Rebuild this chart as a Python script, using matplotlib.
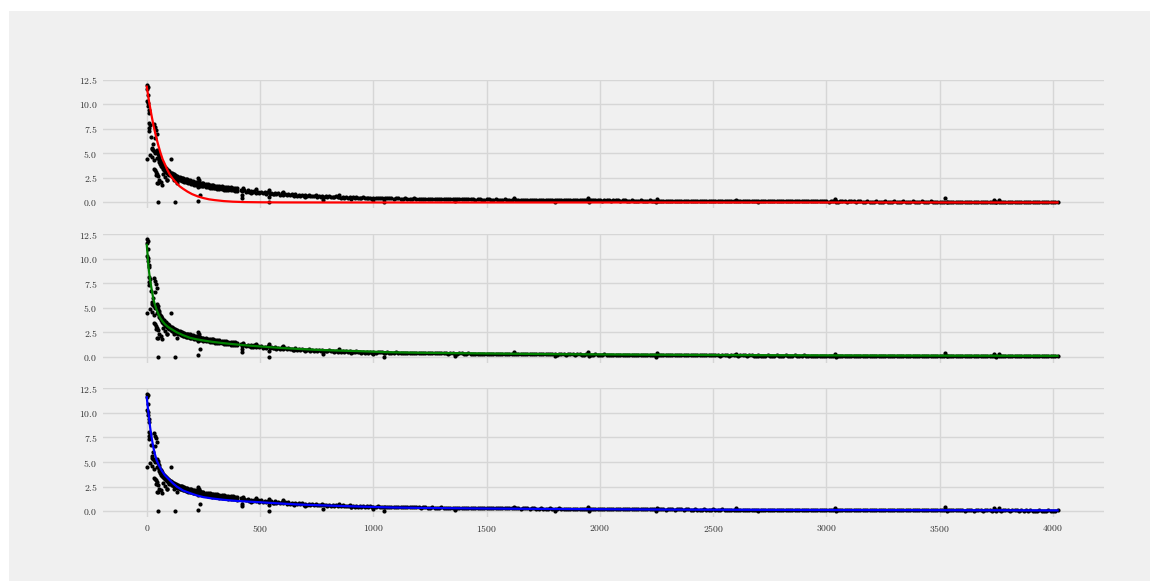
"""Decay of the readings with three fitted curves, one panel per fit."""

import matplotlib

matplotlib.use("Agg")
import matplotlib.pyplot as plt
from matplotlib.patches import Rectangle

plt.rcParams.update({
    "font.family": "cmr10",
    "mathtext.fontset": "cm",
    "axes.formatter.use_mathtext": True,
    "axes.unicode_minus": False,
})

# scattered readings at the start and stray values further out
spread_x = [2, 4, 3, 7, 1, 4, 6, 8, 9, 11, 14, 9, 12, 34, 37, 40, 43, 38, 0,
            19, 26, 22, 25, 32, 44, 50, 16, 24, 31, 43, 53, 62, 29, 37, 48, 56,
            106, 34, 41, 46, 51, 56, 62, 44, 51, 66, 37, 40, 71, 81, 88, 110,
            91, 118, 132, 51, 125, 228, 228, 231, 224, 235, 226, 294, 297,
            426, 422, 419, 540, 540, 540, 460, 600, 700, 850, 900, 650, 480,
            560, 779, 1000, 1047, 1047, 1946, 1950, 2248, 2252, 3038, 3042,
            3525, 3530, 3740, 3760, 3748, 1800, 2600, 2700, 1360, 1620]
spread_y = [11.95, 11.8, 11.6, 10.95, 10.3, 10.1, 9.8, 9.4, 9.1, 8.1, 7.9, 7.6,
            7.3, 8.0, 7.7, 7.4, 7.0, 6.6, 4.45, 6.7, 6.0, 5.6, 5.4, 5.2, 5.35,
            5.15, 4.85, 4.6, 4.3, 4.5, 4.3, 4.15, 5.3, 5.0, 4.9, 4.7, 4.45,
            3.4, 3.15, 2.95, 2.7, 2.3, 2.1, 1.95, 1.95, 1.8, 3.3, 2.8, 2.9,
            2.6, 2.3, 2.7, 2.28, 2.28, 1.94, 0.0, 0.0, 0.14, 2.5, 2.3, 1.6,
            0.75, 2.1, 1.77, 1.5, 1.43, 0.75, 0.5, 1.26, 0.58, 0.0, 0.95, 1.1,
            0.55, 0.75, 0.4, 0.65, 1.35, 0.85, 0.24, 0.24, 0.4, 0.0, 0.45,
            0.05, 0.0, 0.35, 0.32, 0.0, 0.42, 0.05, 0.3, 0.28, 0.02, 0.05, 0.3,
            0.03, 0.12, 0.45]

# dense run of readings, upper and lower edge near the start
head_x = [55, 60, 64, 68, 72, 76, 80, 84, 88, 92, 96, 100, 105, 110, 115, 120,
          125, 130, 135, 140, 145, 150, 155, 160, 166, 172, 178, 184, 190, 196,
          202, 210, 218, 226, 234, 242, 250, 260, 270, 280, 290, 300, 310, 320,
          330, 340, 350, 360, 370, 380, 390, 400]
head_upper = [4.5, 4.3, 4.05, 3.95, 3.75, 3.7, 3.55, 3.5, 3.35, 3.3, 3.2, 3.15,
              3.05, 3.0, 2.9, 2.88, 2.8, 2.72, 2.7, 2.62, 2.6, 2.53, 2.52, 2.45,
              2.42, 2.36, 2.35, 2.28, 2.27, 2.2, 2.18, 2.12, 2.1, 2.04, 2.02,
              1.96, 1.94, 1.88, 1.86, 1.8, 1.78, 1.72, 1.7, 1.66, 1.64, 1.6,
              1.58, 1.54, 1.53, 1.49, 1.48, 1.44]
head_lower = [4.1, 3.9, 3.72, 3.58, 3.45, 3.32, 3.25, 3.12, 3.05, 2.95, 2.9, 2.8,
              2.75, 2.66, 2.62, 2.54, 2.5, 2.42, 2.4, 2.32, 2.3, 2.24, 2.2, 2.16,
              2.12, 2.06, 2.04, 1.98, 1.96, 1.9, 1.88, 1.82, 1.8, 1.74, 1.72,
              1.66, 1.64, 1.6, 1.56, 1.52, 1.48, 1.44, 1.42, 1.38, 1.36, 1.32,
              1.3, 1.27, 1.24, 1.22, 1.2, 1.17]

mid_x = [415, 430, 445, 460, 475, 490, 505, 520, 535, 550, 565, 580, 595, 610,
         625, 640, 655, 670, 685, 700, 715, 730, 745, 760, 775, 790, 805, 820,
         835, 850, 865, 880, 895, 910, 925, 940, 955, 970, 985, 1000]
mid_y = [1.30, 1.22, 1.22, 1.15, 1.17, 1.09, 1.11, 1.04, 1.05, 0.98, 1.00, 0.93,
         0.95, 0.88, 0.90, 0.83, 0.85, 0.78, 0.80, 0.74, 0.76, 0.70, 0.72, 0.66,
         0.69, 0.63, 0.66, 0.60, 0.63, 0.57, 0.60, 0.54, 0.57, 0.51, 0.54, 0.49,
         0.52, 0.47, 0.50, 0.45]
mid_low_x = [422, 437, 452, 467, 482, 497, 512, 527, 542, 557, 572, 587, 602,
             617, 632, 647, 662, 677, 692, 707, 722, 737, 752, 767, 782, 797,
             812, 827, 842, 857, 872, 887, 902, 917, 932, 947, 962, 977, 992]
mid_low_y = [1.12, 1.08, 1.05, 1.02, 0.99, 0.96, 0.93, 0.91, 0.88, 0.86, 0.83,
             0.81, 0.79, 0.77, 0.75, 0.73, 0.71, 0.69, 0.67, 0.65, 0.63, 0.62,
             0.60, 0.58, 0.57, 0.55, 0.54, 0.52, 0.51, 0.50, 0.48, 0.47, 0.46,
             0.45, 0.44, 0.43, 0.42, 0.41, 0.40]

tail_x = [1020, 1040, 1060, 1080, 1100, 1120, 1140, 1160, 1180, 1200,
          1220, 1240, 1260, 1280, 1300, 1320, 1340, 1360, 1380, 1400,
          1420, 1440, 1460, 1480, 1500, 1520, 1540, 1560, 1580, 1600,
          1620, 1640, 1660, 1680, 1700, 1720, 1740, 1760, 1780, 1800,
          1820, 1840, 1860, 1880, 1900, 1920, 1940, 1960, 1980, 2000,
          2020, 2040, 2060, 2080, 2100, 2120, 2140, 2160, 2180, 2200,
          2220, 2240, 2260, 2280, 2300, 2320, 2340, 2360, 2380, 2400,
          2420, 2440, 2460, 2480, 2500, 2520, 2540, 2560, 2580, 2600,
          2620, 2640, 2660, 2680, 2700, 2720, 2740, 2760, 2780, 2800,
          2820, 2840, 2860, 2880, 2900, 2920, 2940, 2960, 2980, 3000,
          3020, 3040, 3060, 3080, 3100, 3120, 3140, 3160, 3180, 3200,
          3220, 3240, 3260, 3280, 3300, 3320, 3340, 3360, 3380, 3400,
          3420, 3440, 3460, 3480, 3500, 3520, 3540, 3560, 3580, 3600,
          3620, 3640, 3660, 3680, 3700, 3720, 3740, 3760, 3780, 3800,
          3820, 3840, 3860, 3880, 3900, 3920, 3940, 3960, 3980, 4000,
          4020]
tail_y = [.48, .44, .46, .42, .44, .40, .42, .39, .41, .38,
          .40, .36, .38, .35, .37, .34, .36, .33, .35, .33,
          .35, .31, .33, .30, .33, .30, .32, .29, .31, .29,
          .31, .28, .30, .27, .29, .26, .28, .26, .28, .25,
          .27, .24, .26, .24, .26, .23, .25, .22, .24, .22,
          .24, .21, .23, .21, .23, .20, .22, .19, .21, .19,
          .21, .18, .20, .18, .20, .17, .19, .17, .19, .16,
          .18, .16, .18, .15, .17, .15, .17, .14, .16, .14,
          .16, .14, .16, .13, .15, .13, .15, .13, .15, .12,
          .14, .12, .14, .12, .14, .11, .13, .11, .13, .11,
          .13, .10, .12, .10, .12, .10, .12, .09, .11, .09,
          .11, .09, .11, .09, .11, .08, .10, .08, .10, .08,
          .10, .08, .10, .07, .09, .07, .09, .07, .09, .07,
          .09, .07, .09, .06, .08, .06, .08, .06, .08, .06,
          .08, .06, .08, .06, .07, .05, .07, .05, .07, .05,
          .07]
tail_low_x = [1010, 1030, 1050, 1070, 1090, 1110, 1130, 1150, 1170, 1190,
              1210, 1230, 1250, 1270, 1290, 1310, 1330, 1350, 1370, 1390,
              1410, 1430, 1450, 1470, 1490, 1510, 1530, 1550, 1570, 1590,
              1610, 1630, 1650, 1670, 1690, 1710, 1730, 1750, 1770, 1790,
              1810, 1830, 1850, 1870, 1890, 1910, 1930, 1950, 1970, 1990,
              2010, 2030, 2050, 2070, 2090, 2110, 2130, 2150, 2170, 2190,
              2210, 2230, 2250, 2270, 2290, 2310, 2330, 2350, 2370, 2390,
              2410, 2430, 2450, 2470, 2490, 2510, 2530, 2550, 2570, 2590,
              2610, 2630, 2650, 2670, 2690, 2710, 2730, 2750, 2770, 2790,
              2810, 2830, 2850, 2870, 2890, 2910, 2930, 2950, 2970, 2990,
              3010, 3030, 3050, 3070, 3090, 3110, 3130, 3150, 3170, 3190,
              3210, 3230, 3250, 3270, 3290, 3310, 3330, 3350, 3370, 3390,
              3410, 3430, 3450, 3470, 3490, 3510, 3530, 3550, 3570, 3590,
              3610, 3630, 3650, 3670, 3690, 3710, 3730, 3750, 3770, 3790,
              3810, 3830, 3850, 3870, 3890, 3910, 3930, 3950, 3970, 3990,
              4010]
tail_low_y = [.43, .45, .41, .43, .40, .42, .39, .40, .37, .39,
              .36, .38, .35, .36, .34, .35, .33, .34, .32, .34,
              .31, .33, .30, .32, .29, .31, .28, .30, .28, .29,
              .27, .29, .26, .28, .25, .27, .25, .26, .24, .26,
              .23, .25, .23, .24, .22, .24, .21, .23, .21, .22,
              .20, .22, .20, .21, .19, .21, .18, .20, .18, .19,
              .17, .19, .17, .18, .16, .18, .16, .17, .15, .17,
              .15, .16, .14, .16, .14, .15, .13, .15, .13, .14,
              .13, .14, .12, .14, .12, .13, .12, .13, .11, .13,
              .11, .12, .11, .12, .10, .12, .10, .11, .10, .11,
              .09, .11, .09, .10, .09, .10, .08, .10, .08, .09,
              .08, .09, .08, .09, .07, .09, .07, .08, .07, .08,
              .07, .08, .06, .08, .06, .08, .06, .07, .06, .07,
              .05, .07, .05, .07, .05, .06, .05, .06, .05, .06,
              .04, .06, .04, .05, .04, .05, .04, .05, .04, .05,
              .05]

# fitted curves
red_x = [0, 10, 20, 30, 40, 50, 60, 70, 80, 90, 100, 115, 130, 145, 160, 180,
         200, 225, 250, 275, 300, 340, 380, 430, 500, 600, 800, 1000, 2000,
         3000, 4020]
red_y = [11.8, 10.3, 9.0, 7.8, 6.8, 5.9, 5.1, 4.4, 3.9, 3.35, 2.9, 2.4, 2.0,
         1.65, 1.4, 1.1, 0.85, 0.62, 0.45, 0.32, 0.24, 0.14, 0.08, 0.04, 0.02,
         0.005, 0.0, 0.0, 0.0, 0.0, 0.0]

green_x = [0, 4, 7, 11, 15, 22, 29, 36, 44, 52, 59, 70, 81, 92, 103, 117, 132,
           160, 191, 220, 250, 290, 338, 380, 426, 485, 544, 600, 662, 720, 779,
           850, 926, 1000, 1058, 1200, 1400, 1600, 1800, 2000, 2250, 2500, 2750,
           3000, 3250, 3500, 3750, 4020]
green_y = [11.4, 10.3, 9.3, 8.5, 7.8, 6.8, 5.9, 5.3, 4.75, 4.3, 3.97, 3.6, 3.3,
           3.08, 2.9, 2.7, 2.5, 2.2, 1.93, 1.78, 1.66, 1.52, 1.39, 1.29, 1.19,
           1.08, 0.98, 0.89, 0.81, 0.74, 0.68, 0.63, 0.58, 0.52, 0.47, 0.41,
           0.36, 0.31, 0.27, 0.24, 0.21, 0.18, 0.16, 0.14, 0.125, 0.115, 0.105,
           0.095]

blue_x = [0, 3, 7, 11, 15, 22, 29, 36, 44, 55, 66, 80, 103, 117, 132, 160, 191,
          220, 250, 290, 338, 400, 485, 570, 662, 790, 926, 1073, 1250, 1500,
          1750, 2000, 2250, 2500, 3000, 3500, 4020]
blue_y = [11.6, 10.9, 10.1, 9.3, 8.5, 7.4, 6.5, 5.8, 5.15, 4.6, 4.13, 3.65,
          3.12, 2.8, 2.5, 2.1, 1.83, 1.6, 1.42, 1.28, 1.15, 1.03, 0.92, 0.8,
          0.68, 0.57, 0.47, 0.37, 0.31, 0.26, 0.22, 0.19, 0.16, 0.14, 0.11,
          0.09, 0.07]

x_ticks = [0, 500, 1000, 1500, 2000, 2500, 3000, 3500, 4000]
y_ticks = [0.0, 2.5, 5.0, 7.5, 10.0, 12.5]

points_x = spread_x + head_x + head_x + mid_x + mid_low_x + tail_x + tail_low_x
points_y = (spread_y + head_upper + head_lower + mid_y + mid_low_y
            + tail_y + tail_low_y)
fits = [(red_x, red_y, "red"), (green_x, green_y, "green"), (blue_x, blue_y, "blue")]

fig, axes = plt.subplots(3, 1, figsize=(11.5, 5.81), dpi=100, sharex=True)
fig.patch.set_facecolor("white")
fig.add_artist(Rectangle((9 / 1150, 0), 1, 1 - 11 / 581, transform=fig.transFigure,
                         facecolor="#f0f0f0", edgecolor="none", zorder=-5))
fig.subplots_adjust(left=0.0896, right=0.96, top=0.8627, bottom=0.1102, hspace=0.2)

for ax, (fx, fy, colour) in zip(axes, fits):
    ax.set_facecolor("#f0f0f0")
    for spine in ax.spines.values():
        spine.set_visible(False)
    ax.plot(points_x, points_y, "o", color="black", ms=3.0, mew=0, zorder=2)
    ax.plot(fx, fy, color=colour, lw=1.6, zorder=3)
    ax.set_xlim(-193, 4225)
    ax.set_ylim(-0.6, 12.5)
    ax.set_xticks(x_ticks)
    ax.set_yticks(y_ticks)
    ax.grid(True, color="#d6d6d6", lw=1.0)
    ax.set_axisbelow(True)
    ax.tick_params(length=0, labelsize=7, labelcolor="#333333", pad=4)
    for tick in ax.yaxis.get_major_ticks():
        if tick.get_loc() == 12.5:
            tick.gridline.set_visible(False)

fig.savefig("out.png", dpi=100, facecolor=fig.get_facecolor())
